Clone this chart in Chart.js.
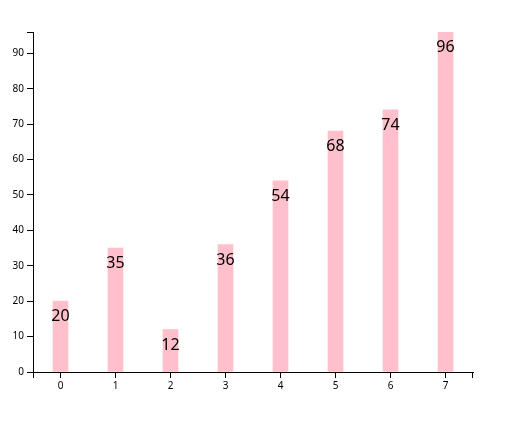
<!DOCTYPE html>
<html>
<head>
<meta charset="utf-8">
<script src="https://cdn.jsdelivr.net/npm/chart.js@4/dist/chart.umd.min.js"></script>
<style>
  html, body { margin: 0; padding: 0; background: #fff; }
  #wrap { width: 518px; height: 442px; }
</style>
</head>
<body>
<div id="wrap"><canvas id="chart"></canvas></div>
<script>
// data
const categories = ['0', '1', '2', '3', '4', '5', '6', '7'];
const values = [20, 35, 12, 36, 54, 68, 74, 96];
const yTicks = [0, 10, 20, 30, 40, 50, 60, 70, 80, 90];
const yMax = 96;

// value labels inside the top of each bar
const valueLabels = {
    id: 'valueLabels',
    afterDatasetsDraw(chart) {
        const ctx = chart.ctx;
        const meta = chart.getDatasetMeta(0);
        ctx.save();
        ctx.font = '16px "Noto Sans", sans-serif';
        ctx.fillStyle = '#000';
        ctx.textAlign = 'center';
        ctx.textBaseline = 'alphabetic';
        meta.data.forEach((bar, i) => {
            ctx.fillText(values[i], bar.x, bar.y + 20);
        });
        ctx.restore();
    }
};

// d3 style outer ticks at the ends of the axes
const outerTicks = {
    id: 'outerTicks',
    afterDraw(chart) {
        const ctx = chart.ctx;
        const a = chart.chartArea;
        ctx.save();
        ctx.strokeStyle = '#000';
        ctx.lineWidth = 1;
        ctx.beginPath();
        ctx.moveTo(a.left - 6, a.top + 0.5);
        ctx.lineTo(a.left, a.top + 0.5);
        ctx.moveTo(a.left + 0.5, a.bottom);
        ctx.lineTo(a.left + 0.5, a.bottom + 6);
        ctx.moveTo(a.right - 0.5, a.bottom);
        ctx.lineTo(a.right - 0.5, a.bottom + 6);
        ctx.stroke();
        ctx.restore();
    }
};

const ctx = document.getElementById('chart').getContext('2d');
new Chart(ctx, {
    type: 'bar',
    data: {
        labels: categories,
        datasets: [{
            data: values,
            backgroundColor: 'pink',
            barThickness: 15
        }]
    },
    options: {
        responsive: true,
        maintainAspectRatio: false,
        animation: false,
        layout: { padding: { left: 0, top: 32, right: 45, bottom: 0 } },
        plugins: {
            legend: { display: false },
            tooltip: { enabled: false }
        },
        scales: {
            x: {
                offset: true,
                grid: {
                    offset: false,
                    drawOnChartArea: false,
                    drawTicks: true,
                    tickLength: 6,
                    color: '#000'
                },
                border: { display: true, color: '#000', width: 1 },
                ticks: {
                    color: '#000',
                    font: { size: 10, family: '"Noto Sans", sans-serif' },
                    padding: 2,
                    maxRotation: 0
                },
                afterFit(scale) { scale.height = 70; }
            },
            y: {
                min: 0,
                max: yMax,
                afterBuildTicks(scale) {
                    scale.ticks = yTicks.map(v => ({ value: v }));
                },
                grid: {
                    drawOnChartArea: false,
                    drawTicks: true,
                    tickLength: 6,
                    color: '#000'
                },
                border: { display: true, color: '#000', width: 1 },
                ticks: {
                    color: '#000',
                    font: { size: 10, family: '"Noto Sans", sans-serif' },
                    padding: 3
                },
                afterFit(scale) { scale.width = 33; }
            }
        }
    },
    plugins: [valueLabels, outerTicks]
});
</script>
</body>
</html>
